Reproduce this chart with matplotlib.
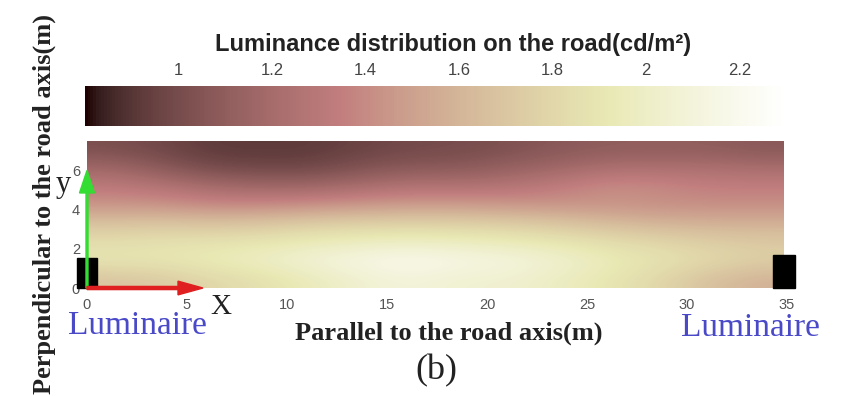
import numpy as np
import matplotlib
matplotlib.use("Agg")
import matplotlib.pyplot as plt
from matplotlib.patches import Rectangle

# luminance (cd/m^2), rows from the kerb (y=0) upwards,
# columns every ~2.5 m along the road
lum_rows = [
    [1.68, 1.72, 1.80, 1.86, 1.95, 2.05, 2.10, 2.05, 2.05, 1.98, 1.90, 1.80, 1.66, 1.58],
    [1.90, 1.90, 1.95, 2.00, 2.08, 2.15, 2.20, 2.15, 2.12, 2.05, 1.95, 1.88, 1.82, 1.75],
    [1.85, 1.87, 1.88, 1.90, 1.95, 1.98, 2.00, 1.98, 1.95, 1.90, 1.85, 1.80, 1.75, 1.72],
    [1.68, 1.70, 1.68, 1.70, 1.74, 1.76, 1.77, 1.76, 1.74, 1.70, 1.64, 1.60, 1.58, 1.58],
    [1.45, 1.44, 1.40, 1.40, 1.43, 1.46, 1.48, 1.48, 1.46, 1.44, 1.44, 1.42, 1.42, 1.42],
    [1.32, 1.28, 1.20, 1.17, 1.17, 1.22, 1.27, 1.26, 1.28, 1.34, 1.42, 1.40, 1.35, 1.35],
    [1.18, 1.08, 1.00, 0.98, 0.98, 1.04, 1.08, 1.08, 1.13, 1.18, 1.24, 1.24, 1.24, 1.22],
    [1.02, 0.98, 0.92, 0.92, 0.92, 0.96, 0.99, 1.00, 1.03, 1.07, 1.10, 1.10, 1.10, 1.07],
]
road_length = 34.8
road_width = 7.5
lum_min, lum_max = 0.8, 2.3

x_ticks = [0, 5, 10, 15, 20, 25, 30, 35]
y_ticks = [0, 2, 4, 6]
cbar_ticks = [1, 1.2, 1.4, 1.6, 1.8, 2, 2.2]
cbar_labels = ["1", "1.2", "1.4", "1.6", "1.8", "2", "2.2"]

serif = ["Liberation Serif", "DejaVu Serif"]
sans = ["Liberation Sans", "DejaVu Sans"]

fig = plt.figure(figsize=(8.43, 3.96), dpi=100)
ax = fig.add_axes([0.1032, 0.2727, 0.8304, 0.3712])
cax = fig.add_axes([0.1008, 0.6818, 0.8316, 0.101])

lum = np.array(lum_rows)
im = ax.imshow(lum, cmap="pink", vmin=lum_min, vmax=lum_max, origin="lower",
               extent=(0, road_length, 0, road_width), aspect="auto",
               interpolation="bicubic")
ax.set_xlim(0, 35)
ax.set_ylim(0, road_width)
ax.set_xticks(x_ticks)
ax.set_yticks(y_ticks)
ax.tick_params(length=0, labelsize=10.5, labelcolor="#555555")
ax.tick_params(axis="x", pad=7)
ax.tick_params(axis="y", pad=5)
for lab in ax.get_xticklabels() + ax.get_yticklabels():
    lab.set_family(sans)
for s in ax.spines.values():
    s.set_visible(False)

# luminaires
ax.add_patch(Rectangle((-0.5, 0), 1.0, 1.53, color="black", clip_on=False, zorder=3))
ax.add_patch(Rectangle((34.3, 0), 1.1, 1.68, color="black", clip_on=False, zorder=3))

# coordinate arrows
ax.arrow(0, 0, 0, 4.85, width=0.1, head_width=0.75, head_length=1.15,
         color="#33dd33", clip_on=False, zorder=4)
ax.arrow(0, 0, 4.55, 0, width=0.16, head_width=0.7, head_length=1.25,
         color="#e02020", clip_on=False, zorder=4)

ax.text(-1.2, 5.3, "y", fontsize=22, family=serif, ha="center", va="center", color="#222222")
ax.text(6.7, -0.97, "X", fontsize=21, family=serif, ha="center", va="center", color="#222222")

# colour bar on top
cb = fig.colorbar(im, cax=cax, orientation="horizontal")
cb.outline.set_visible(False)
cax.xaxis.tick_top()
cax.set_xticks(cbar_ticks)
cax.set_xticklabels(cbar_labels, family=sans)
cax.tick_params(length=0, labelsize=12, labelcolor="#444444", pad=6)

fig.text(453 / 843, 1 - 51 / 396, "Luminance distribution on the road(cd/m²)",
         fontsize=17, fontweight="bold", family=sans, ha="center", va="baseline",
         color="#222222")

fig.text(137 / 843, 1 - 326 / 396, "Luminaire", fontsize=24, family=serif,
         color="#4a4ac8", ha="center", va="center")
fig.text(750 / 843, 1 - 328 / 396, "Luminaire", fontsize=24, family=serif,
         color="#4a4ac8", ha="center", va="center")
fig.text(449 / 843, 1 - 340 / 396, "Parallel to the road axis(m)", fontsize=19,
         fontweight="bold", family=serif, ha="center", va="baseline", color="#222222")
fig.text(436 / 843, 1 - 371 / 396, "(b)", fontsize=26, family=serif,
         ha="center", va="center", color="#222222")
fig.text(44 / 843, 1 - 204 / 396, "Perpendicular to the road axis(m)", fontsize=19,
         fontweight="bold", family=serif, rotation=90, ha="center", va="center",
         color="#222222")

fig.savefig("out.png", dpi=100)
